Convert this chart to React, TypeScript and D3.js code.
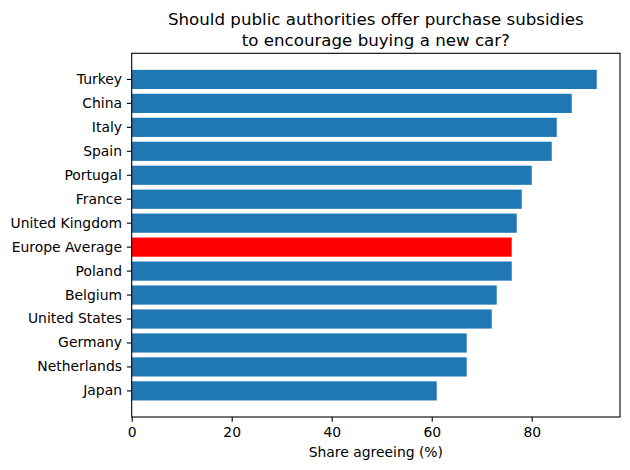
import { useEffect, useRef } from "react";
import * as d3 from "d3";

// Countries, top to bottom
const countries = [
  "Turkey",
  "China",
  "Italy",
  "Spain",
  "Portugal",
  "France",
  "United Kingdom",
  "Europe Average",
  "Poland",
  "Belgium",
  "United States",
  "Germany",
  "Netherlands",
  "Japan",
];
const shares = [93, 88, 85, 84, 80, 78, 77, 76, 76, 73, 72, 67, 67, 61];
const xTicks = [0, 20, 40, 60, 80];
const highlight = "Europe Average";
const titleLines = [
  "Should public authorities offer purchase subsidies",
  "to encourage buying a new car?",
];

export default function App() {
  const svgRef = useRef<SVGSVGElement | null>(null);

  useEffect(() => {
    document.body.style.margin = "0";
    if (!svgRef.current) return;

    const width = 630;
    const height = 470;
    const margin = { top: 53.3, right: 10, bottom: 53, left: 131.7 };
    const font = "DejaVu Sans, sans-serif";

    const svg = d3.select(svgRef.current);
    svg.selectAll("*").remove();

    const data = countries.map((c, i) => ({ country: c, value: shares[i] }));

    const x = d3
      .scaleLinear()
      .domain([0, (d3.max(shares) || 0) * 1.05])
      .range([margin.left, width - margin.right]);

    const y = d3
      .scaleBand<string>()
      .domain(countries)
      .range([margin.top, height - margin.bottom])
      .paddingInner(0.2)
      .paddingOuter(0.69);

    svg
      .selectAll(".bar")
      .data(data)
      .join("rect")
      .attr("class", "bar")
      .attr("x", x(0))
      .attr("y", (d) => y(d.country) || 0)
      .attr("width", (d) => x(d.value) - x(0))
      .attr("height", y.bandwidth())
      .attr("fill", (d) => (d.country === highlight ? "#ff0000" : "#1f77b4"));

    const xAxis = d3
      .axisBottom(x)
      .tickValues(xTicks)
      .tickSize(4.86)
      .tickPadding(4.86)
      .tickFormat((d) => `${d}`);
    const gx = svg
      .append("g")
      .attr("transform", `translate(0,${height - margin.bottom})`)
      .call(xAxis);
    gx.select(".domain").remove();
    gx.selectAll("line").attr("stroke", "#000").attr("stroke-width", 1.1);
    gx.selectAll("text")
      .attr("font-family", font)
      .attr("font-size", "13.9px")
      .attr("fill", "#000");

    const yAxis = d3.axisLeft(y).tickSize(4.86).tickPadding(4.86);
    const gy = svg
      .append("g")
      .attr("transform", `translate(${margin.left},0)`)
      .call(yAxis);
    gy.select(".domain").remove();
    gy.selectAll("line").attr("stroke", "#000").attr("stroke-width", 1.1);
    gy.selectAll("text")
      .attr("font-family", font)
      .attr("font-size", "13.9px")
      .attr("fill", "#000");

    // frame
    svg
      .append("rect")
      .attr("x", margin.left)
      .attr("y", margin.top)
      .attr("width", width - margin.right - margin.left)
      .attr("height", height - margin.bottom - margin.top)
      .attr("fill", "none")
      .attr("stroke", "#000")
      .attr("stroke-width", 1.1);

    const cx = (margin.left + width - margin.right) / 2;

    svg
      .append("text")
      .attr("x", cx)
      .attr("y", 456.5)
      .attr("text-anchor", "middle")
      .attr("font-family", font)
      .attr("font-size", "13.9px")
      .text("Share agreeing (%)");

    svg
      .selectAll(".title")
      .data(titleLines)
      .join("text")
      .attr("class", "title")
      .attr("x", cx)
      .attr("y", (_, i) => 25 + i * 21)
      .attr("text-anchor", "middle")
      .attr("font-family", font)
      .attr("font-size", "16.67px")
      .text((d) => d);
  }, []);

  return (
    <div>
      <svg ref={svgRef} width={630} height={470} style={{ display: "block" }}></svg>
    </div>
  );
}
